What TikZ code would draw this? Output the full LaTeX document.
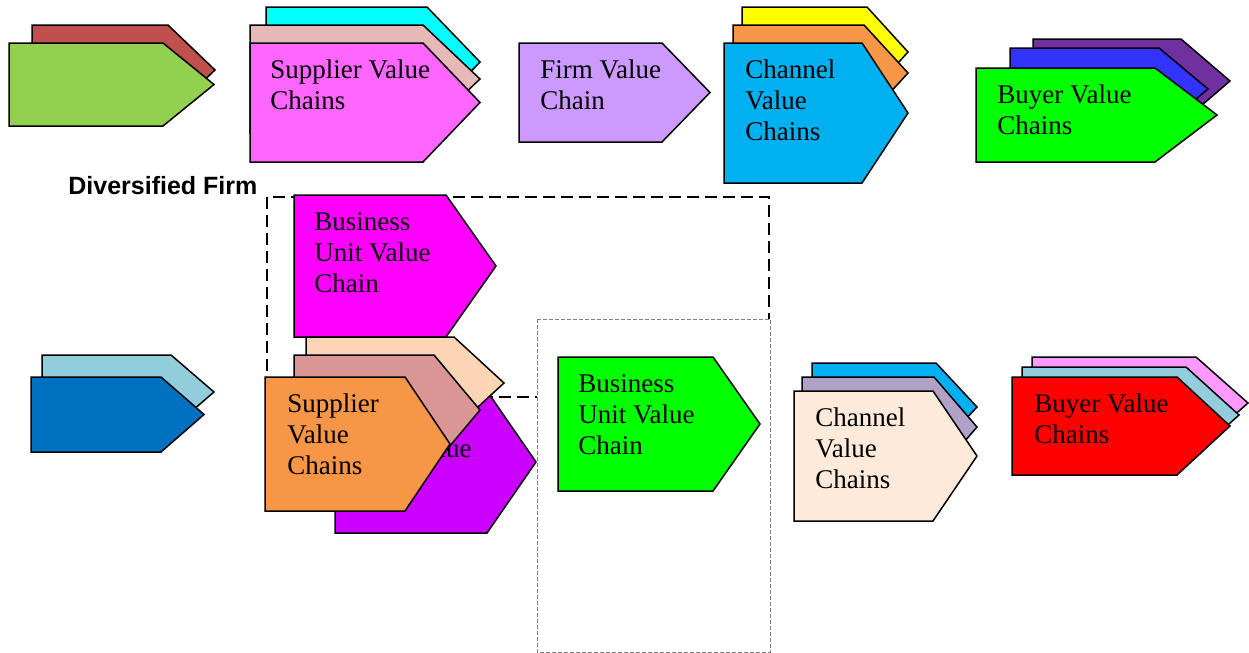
\documentclass[tikz,border=0pt]{standalone}
\usepackage{fontspec}
\setmainfont{Liberation Serif}
\newfontfamily\labelsans{Liberation Sans}
\definecolor{cRedBrown}{HTML}{C0504D}
\definecolor{cOlive}{HTML}{92D050}
\definecolor{cCyan}{HTML}{00FFFF}
\definecolor{cRoseLight}{HTML}{E6B9B8}
\definecolor{cPinkMag}{HTML}{FF66FF}
\definecolor{cLilac}{HTML}{CC99FF}
\definecolor{cYellow}{HTML}{FFFF00}
\definecolor{cOrange}{HTML}{F79646}
\definecolor{cSky}{HTML}{00B0F0}
\definecolor{cViolet}{HTML}{7030A0}
\definecolor{cBlue}{HTML}{3333FF}
\definecolor{cGreen}{HTML}{00FF00}
\definecolor{cMagenta}{HTML}{FF00FF}
\definecolor{cPaleBlue}{HTML}{92CDDC}
\definecolor{cDarkBlue}{HTML}{0070C0}
\definecolor{cPurple}{HTML}{CC00FF}
\definecolor{cPeach}{HTML}{FCD5B5}
\definecolor{cRose}{HTML}{D99694}
\definecolor{cLavender}{HTML}{B2A1C7}
\definecolor{cCream}{HTML}{FDEADA}
\definecolor{cPink}{HTML}{FF99FF}
\definecolor{cRed}{HTML}{FF0000}
\newcommand\vchain[6]{\filldraw[chainshape,fill=#1] (#2,#3) -- (#4,#3) -- (#5,{(#3+#6)/2}) -- (#4,#6) -- (#2,#6) -- cycle;}
\begin{document}
\begin{tikzpicture}[x=0.5pt,y=-0.5pt,
  chainshape/.style={draw=black,line width=0.75pt,line join=miter},
  chaintext/.style={anchor=north west,inner sep=0pt,align=left,font=\fontsize{13.5}{15.5}\selectfont},
  bigbox/.style={draw=black,line width=1pt,dash pattern=on 6pt off 3pt},
  smallbox/.style={draw=gray,fill=white,line width=0.5pt,dash pattern=on 2pt off 1pt}]
\useasboundingbox (0,0) rectangle (1249,653);

% dashed frames
\draw[bigbox] (267,197) rectangle (769,397);
\filldraw[smallbox] (537,319) rectangle (770,652);
\node[anchor=base west,inner sep=0pt,font=\labelsans\bfseries\fontsize{12.5}{15}\selectfont] (divfirm) at (68,194) {Diversified Firm};

% top row
\vchain{cRedBrown}{32}{25}{168}{215}{115}
\vchain{cOlive}{9}{43}{163}{214}{126}

\vchain{cCyan}{266}{7}{427}{480}{117}
\vchain{cRoseLight}{250}{25}{423}{480}{133}
\vchain{cPinkMag}{250}{43}{423}{480}{162}
\node[chaintext] (sup1) at (270,56) {\strut Supplier Value\\Chains};

\vchain{cLilac}{519}{43}{662}{710}{142}
\node[chaintext] (firm) at (540,56) {\strut Firm Value\\Chain};

\vchain{cYellow}{742}{7}{867}{908}{97}
\vchain{cOrange}{733}{25}{864}{908}{121}
\vchain{cSky}{724}{43}{862}{908}{183}
\node[chaintext] (chan1) at (745,56) {\strut Channel\\Value\\Chains};

\vchain{cViolet}{1033}{39}{1181}{1230}{123}
\vchain{cBlue}{1010}{48}{1159}{1208}{130}
\vchain{cGreen}{976}{68}{1155}{1217}{162}
\node[chaintext] (buy1) at (997,81) {\strut Buyer Value\\Chains};

% diversified firm
\vchain{cMagenta}{294}{195}{446}{496}{337}
\node[chaintext] (bu1) at (314,208) {\strut Business\\Unit Value\\Chain};

% bottom row
\vchain{cPaleBlue}{42}{355}{171}{214}{429}
\vchain{cDarkBlue}{31}{377}{161}{204}{452}

\vchain{cPurple}{335}{391}{487}{536}{533}
\node[chaintext] (bu2) at (355,404) {\strut Business\\Unit Value\\Chain};
\vchain{cPeach}{306}{337}{454}{504}{429}
\vchain{cRose}{294}{355}{434}{480}{465}
\vchain{cOrange}{265}{377}{405}{450}{511}
\node[chaintext] (sup2) at (287,390) {\strut Supplier\\Value\\Chains};

\vchain{cGreen}{558}{357}{713}{760}{491}
\node[chaintext] (bu3) at (578,370) {\strut Business\\Unit Value\\Chain};

\vchain{cSky}{812}{363}{936}{977}{451}
\vchain{cLavender}{802}{377}{934}{977}{477}
\vchain{cCream}{794}{391}{933}{977}{521}
\node[chaintext] (chan2) at (815,404) {\strut Channel\\Value\\Chains};

\vchain{cPink}{1032}{357}{1196}{1248}{449}
\vchain{cPaleBlue}{1022}{367}{1186}{1239}{463}
\vchain{cRed}{1012}{377}{1177}{1230}{475}
\node[chaintext] (buy2) at (1034,390) {\strut Buyer Value\\Chains};
\end{tikzpicture}
\end{document}
